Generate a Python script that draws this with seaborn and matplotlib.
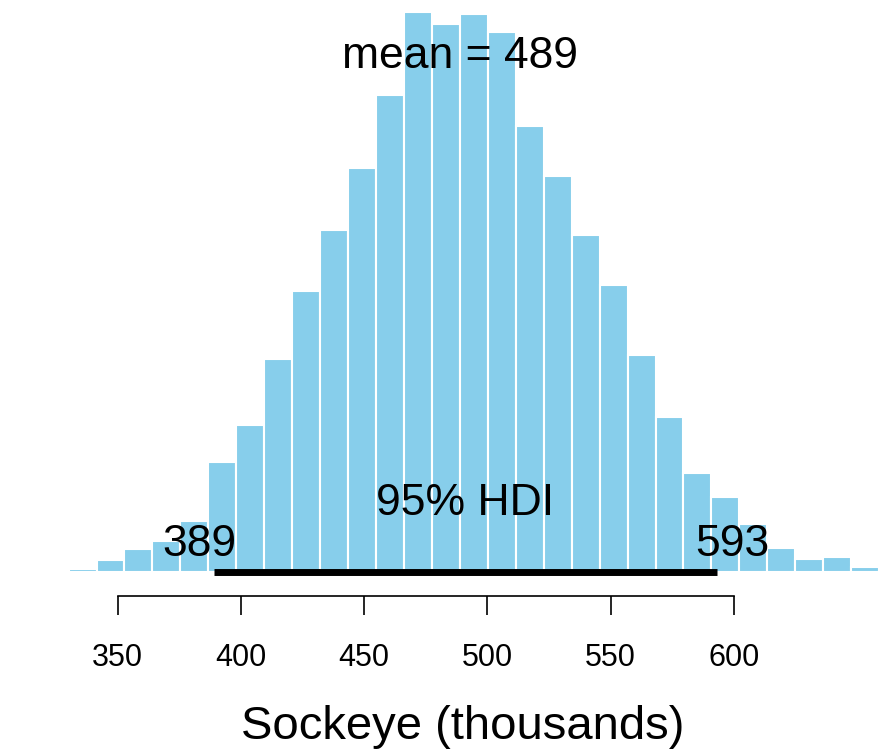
import numpy as np
import pandas as pd
import matplotlib
matplotlib.use("Agg")
import matplotlib.pyplot as plt
import seaborn as sns

# posterior histogram (percent of samples per bin)
bin_start = 307.5
bin_width = 204 / 18   # HDI width / 18, as plotPost does
pct = [0.01, 0.01, 0.05, 0.19, 0.36, 0.48, 0.79, 1.71, 2.29, 3.32,
       4.38, 5.33, 6.29, 7.43, 8.72, 8.54, 8.69, 8.41, 6.95, 6.17,
       5.25, 4.47, 3.38, 2.41, 1.54, 1.17, 0.75, 0.37, 0.20, 0.23,
       0.07, 0.02]
mean_val = 489
hdi = [389, 593]
xticks = [350, 400, 450, 500, 550, 600]

edges = bin_start + bin_width * np.arange(len(pct) + 1)
df = pd.DataFrame({'x': (edges[:-1] + edges[1:]) / 2, 'w': pct})

sns.set_style("white")
plt.rcParams['font.family'] = ['Liberation Sans', 'DejaVu Sans']
plt.rcParams['text.color'] = 'black'
plt.rcParams['axes.labelcolor'] = 'black'
plt.rcParams['xtick.color'] = 'black'
plt.rcParams['axes.edgecolor'] = 'black'

fig = plt.figure(figsize=(8.92, 7.53), dpi=100)
ax = fig.add_axes([0, 0.2404, 1, 0.7596])

sns.histplot(data=df, x='x', weights='w', bins=list(edges), color='#87CEEB',
             edgecolor='white', linewidth=1.5, alpha=1, ax=ax)

ax.set_xlim(302.35, 664.07)
ax.set_ylim(0, 8.91)

# HDI bar and labels
ax.plot(hdi, [0, 0], color='black', lw=5, solid_capstyle='butt', clip_on=False)
ax.annotate('95% HDI', xy=(np.mean(hdi), 0), xytext=(0, 41), textcoords='offset points',
            ha='center', va='baseline', fontsize=32)
ax.annotate(str(hdi[0]), xy=(hdi[0], 0), xytext=(-10, 11.5), textcoords='offset points',
            ha='center', va='baseline', fontsize=32)
ax.annotate(str(hdi[1]), xy=(hdi[1], 0), xytext=(11, 11.5), textcoords='offset points',
            ha='center', va='baseline', fontsize=32)

# mean label at 0.9 of the tallest bar
ax.text(mean_val, 0.9 * max(pct), 'mean = %d' % mean_val, ha='center', va='baseline',
        fontsize=32)

# R-style axis
for s in ['left', 'top', 'right']:
    ax.spines[s].set_visible(False)
ax.spines['bottom'].set_bounds(xticks[0], xticks[-1])
ax.spines['bottom'].set_position(('outward', 17))
ax.spines['bottom'].set_linewidth(1.2)
ax.set_xticks(xticks)
ax.set_yticks([])
ax.tick_params(axis='x', direction='out', length=14, width=1.2, labelsize=22, pad=20,
               bottom=True, colors='black')
ax.set_ylabel('')
ax.set_xlabel('Sockeye (thousands)', fontsize=34, va='baseline')
ax.xaxis.set_label_coords(0.519, -0.292)

fig.savefig('out.png', dpi=100)
